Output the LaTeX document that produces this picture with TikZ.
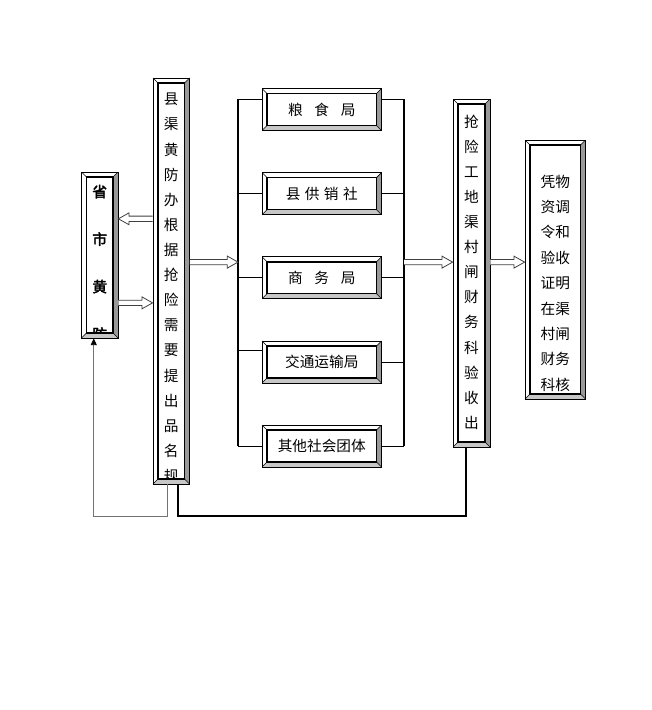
\documentclass[tikz,border=0pt]{standalone}
\usepackage{fontspec}
\setmainfont{Noto Sans CJK SC}
\newfontfamily\cjkbold[FakeBold=2.5]{Noto Sans CJK SC}
\usetikzlibrary{arrows.meta,calc,positioning}
\def\bw{3.8pt}
\newcommand{\blockarrow}[3]{%
  \draw[block arrow] let \p1=(#1), \p2=(#2), \p3=(#3),
    \p4=({\x2-sign(\x2-\x1)*8pt},\y3) in
    (\x1,\y3+2pt) -- (\x4,\y3+2pt) -- (\x4,\y3+4.5pt) -- (\x2,\y3)
    -- (\x4,\y3-4.5pt) -- (\x4,\y3-2pt) -- (\x1,\y3-2pt);}
\begin{document}
\begin{tikzpicture}[x=0.75pt,y=-0.75pt,font=\fontsize{11pt}{13pt}\selectfont,
                    node distance=31pt,
                    bevel/.style={draw,line width=0.6pt,fill=white,inner sep=0pt,
                      path picture={
                        \path (path picture bounding box.north west) coordinate (o-nw)
                              (path picture bounding box.north east) coordinate (o-ne)
                              (path picture bounding box.south east) coordinate (o-se)
                              (path picture bounding box.south west) coordinate (o-sw)
                              ([shift={(\bw,-\bw)}]o-nw) coordinate (i-nw)
                              ([shift={(-\bw,-\bw)}]o-ne) coordinate (i-ne)
                              ([shift={(-\bw,\bw)}]o-se) coordinate (i-se)
                              ([shift={(\bw,\bw)}]o-sw) coordinate (i-sw);
                        \fill[black!40] (o-ne) -- (o-se) -- (i-se) -- (i-ne) -- cycle;
                        \fill[black!22] (o-sw) -- (o-se) -- (i-se) -- (i-sw) -- cycle;
                        \draw[line width=0.4pt] (o-nw) -- (i-nw) (o-ne) -- (i-ne)
                          (o-se) -- (i-se) (o-sw) -- (i-sw);
                        \draw[line width=1.1pt] (i-nw) rectangle (i-se);
                      }}]
  \tikzstyle{midbox}=[bevel,minimum width=89.6pt,minimum height=31.5pt]
  \tikzstyle{vchar}=[inner sep=0pt]
  \tikzstyle{block arrow}=[draw=black!75,fill=white,line width=0.6pt]
  \tikzstyle{bar}=[line width=0.9pt]
  \tikzstyle{link}=[line width=0.6pt]

  \useasboundingbox (0,0) rectangle (652,710);

  \node[bevel,minimum width=27.4pt,minimum height=124.5pt] (prov) at (99.75,255) {};
  \node[bevel,minimum width=27.4pt,minimum height=304.5pt] (county) at (171.25,281) {};
  \node[midbox] (grain) at (321.75,109.5) {粮\hspace{0.8em}食\hspace{0.8em}局};
  \node[midbox,below=of grain] (supply) {县\hspace{0.3em}供\hspace{0.3em}销\hspace{0.3em}社};
  \node[midbox,below=of supply] (commerce) {商\hspace{0.8em}务\hspace{0.8em}局};
  \node[midbox,below=of commerce] (transport) {交通运输局};
  \node[midbox,below=of transport] (social) {其他社会团体};
  \node[bevel,minimum width=27.75pt,minimum height=261pt] (site) at (471.5,273) {};
  \node[bevel,minimum width=45.4pt,minimum height=194.25pt] (finance) at (555.25,269.5) {};

  \begin{scope}
    \clip ([shift={(\bw,-\bw)}]prov.north west) rectangle ([shift={(-\bw,\bw)}]prov.south east);
    \foreach \c [count=\i] in {省,市,黄,防}
      \node[vchar] (prov-\i) at ($(prov.north)+(0,{47.5*\i-27.5})$) {\cjkbold\c};
  \end{scope}
  \begin{scope}
    \clip ([shift={(\bw,-\bw)}]county.north west) rectangle ([shift={(-\bw,\bw)}]county.south east);
    \foreach \c [count=\i] in {县,渠,黄,防,办,根,据,抢,险,需,要,提,出,品,名,规}
      \node[vchar] (county-\i) at ($(county.north)+(0,{25.15*\i-3.6})$) {\c};
  \end{scope}
  \foreach \c [count=\i] in {抢,险,工,地,渠,村,闸,财,务,科,验,收,出}
    \node[vchar] (site-\i) at ($(site.north)+(0,{25.1*\i-2.1})$) {\c};
  \foreach \c [count=\i] in {凭物,资调,令和,验收,证明,在渠,村闸,财务,科核}
    \node[vchar] (finance-\i) at ($(finance.north)+(0,{25.4*\i+16.6})$) {\c};

  \coordinate (lbar top) at (238,99);
  \coordinate (lbar bot) at (lbar top |- social.west);
  \coordinate (rbar top) at (404,99);
  \coordinate (rbar bot) at (rbar top |- social.east);
  \coordinate (tr left) at ([yshift=8.8pt]transport.west);

  \draw[bar] (lbar top) -- (lbar bot);
  \draw[bar] (rbar top) -- (rbar bot);
  \draw[link] (lbar top) -- (lbar top -| grain.west)
              (supply.west -| lbar top) -- (supply.west)
              (commerce.west -| lbar top) -- (commerce.west)
              (tr left -| lbar top) -- (tr left)
              (lbar bot) -- (social.west);
  \draw[link] (rbar top -| grain.east) -- (rbar top)
              (supply.east) -- (supply.east -| rbar top)
              (commerce.east) -- (commerce.east -| rbar top)
              (transport.east) -- (transport.east -| rbar top)
              (social.east) -- (rbar bot);

  \blockarrow{county.west}{prov.east}{$(prov.north)!0.283!(prov.south)$}
  \blockarrow{prov.east}{county.west}{$(prov.north)!0.787!(prov.south)$}
  \blockarrow{county.east}{lbar top}{$(lbar top)!0.47!(lbar bot)$}
  \blockarrow{rbar top}{site.west}{$(lbar top)!0.47!(lbar bot)$}
  \blockarrow{site.east}{finance.west}{$(lbar top)!0.47!(lbar bot)$}

  \draw[black!55,line width=0.6pt,-{Triangle[length=5pt,width=4.5pt,color=black]}]
    ([xshift=-3.2pt]county.south) -- ++(0,31.5) -| ([xshift=-4.5pt]prov.south);
  \draw[line width=1.1pt]
    ([xshift=5pt]county.south) -- ++(0,31.5) -| ([xshift=-4pt]site.south);
\end{tikzpicture}
\end{document}
